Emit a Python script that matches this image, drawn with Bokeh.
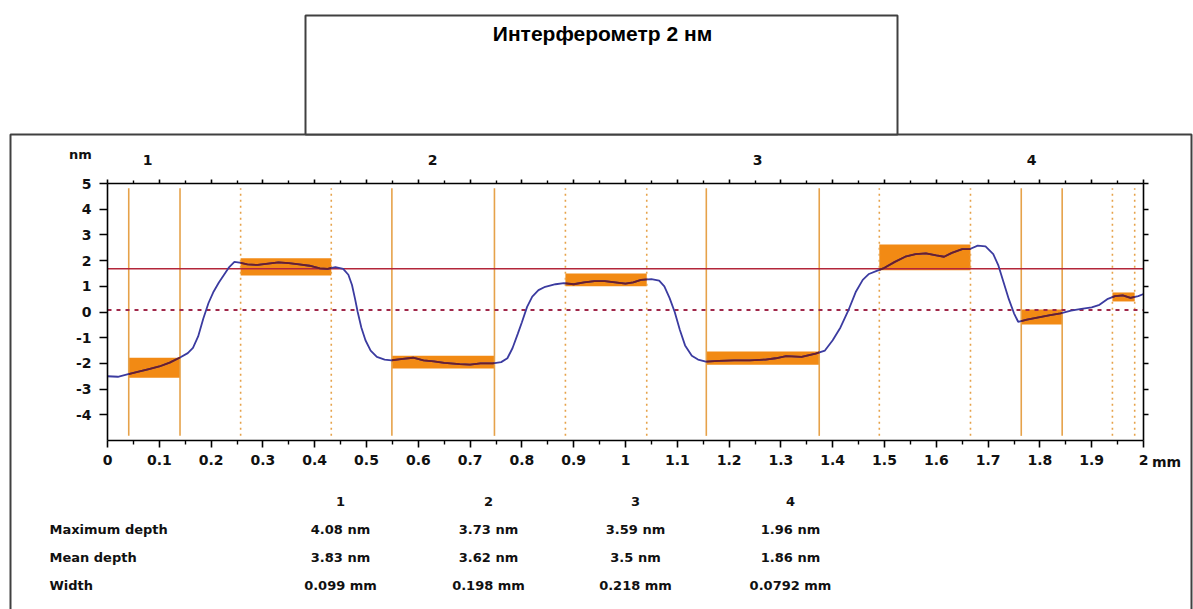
import numpy as np
from bokeh.plotting import figure
from bokeh.models import (LinearAxis, FixedTicker, Label, Range1d, CustomJSTickFormatter)
from bokeh.embed import file_html
from bokeh.resources import INLINE

# ------------------------------------------------------------------ data
title_text = "Интерферометр 2 нм"

profile_x = [0.000, 0.020, 0.040, 0.060, 0.080, 0.100, 0.120, 0.140, 0.155, 0.165,
             0.175, 0.185, 0.195, 0.205, 0.215, 0.225, 0.235, 0.245, 0.255, 0.270,
             0.290, 0.310, 0.330, 0.350, 0.370, 0.390, 0.410, 0.425, 0.440, 0.455,
             0.465, 0.472, 0.478, 0.483, 0.490, 0.498, 0.508, 0.520, 0.535, 0.548,
             0.570, 0.590, 0.610, 0.630, 0.650, 0.680, 0.700, 0.720, 0.744, 0.760,
             0.772, 0.782, 0.792, 0.800, 0.810, 0.820, 0.832, 0.845, 0.865, 0.881,
             0.900, 0.920, 0.940, 0.960, 0.980, 1.000, 1.015, 1.030, 1.050, 1.065,
             1.075, 1.085, 1.095, 1.105, 1.115, 1.128, 1.140, 1.155, 1.180, 1.210,
             1.240, 1.270, 1.290, 1.310, 1.340, 1.367, 1.385, 1.400, 1.415, 1.430,
             1.445, 1.458, 1.470, 1.485, 1.500, 1.520, 1.540, 1.560, 1.580, 1.600,
             1.615, 1.630, 1.650, 1.665, 1.680, 1.695, 1.710, 1.720, 1.730, 1.740,
             1.750, 1.758, 1.775, 1.800, 1.820, 1.840, 1.860, 1.880, 1.900, 1.915,
             1.930, 1.945, 1.960, 1.975, 1.990, 2.000]
profile_y = [-2.50, -2.52, -2.42, -2.32, -2.22, -2.12, -1.97, -1.77, -1.60, -1.40,
             -0.95, -0.25, 0.35, 0.80, 1.15, 1.45, 1.75, 1.95, 1.92, 1.85,
             1.83, 1.88, 1.93, 1.90, 1.85, 1.80, 1.70, 1.68, 1.75, 1.68,
             1.45, 1.05, 0.50, 0.00, -0.60, -1.10, -1.50, -1.75, -1.85, -1.88,
             -1.82, -1.78, -1.88, -1.92, -1.98, -2.03, -2.05, -2.00, -2.00, -1.95,
             -1.80, -1.40, -0.85, -0.40, 0.20, 0.60, 0.85, 0.98, 1.08, 1.12,
             1.08, 1.15, 1.20, 1.20, 1.15, 1.10, 1.15, 1.25, 1.28, 1.22,
             1.00, 0.55, 0.00, -0.70, -1.30, -1.70, -1.85, -1.93, -1.90, -1.88,
             -1.88, -1.85, -1.80, -1.72, -1.75, -1.62, -1.50, -1.10, -0.60, 0.05,
             0.80, 1.25, 1.48, 1.60, 1.72, 1.95, 2.15, 2.25, 2.28, 2.20,
             2.15, 2.30, 2.45, 2.45, 2.58, 2.55, 2.25, 1.80, 1.15, 0.50,
             -0.05, -0.38, -0.30, -0.20, -0.12, -0.05, 0.05, 0.12, 0.18, 0.28,
             0.50, 0.62, 0.65, 0.55, 0.62, 0.70]

region_names = ["1", "2", "3", "4"]
# measured (solid-edged) regions
measure_left = [0.041, 0.549, 1.156, 1.764]
measure_right = [0.140, 0.747, 1.374, 1.843]
measure_top = [-1.78, -1.70, -1.54, 0.10]
measure_bottom = [-2.56, -2.20, -2.05, -0.49]
# reference (dotted-edged) regions
ref_left = [0.257, 0.884, 1.490, 1.940]
ref_right = [0.432, 1.041, 1.666, 1.983]
ref_top = [2.09, 1.50, 2.63, 0.76]
ref_bottom = [1.42, 1.00, 1.62, 0.41]

level_solid = 1.68
level_dotted = 0.08

x_ticks = [0.0, 0.1, 0.2, 0.3, 0.4, 0.5, 0.6, 0.7, 0.8, 0.9, 1.0,
           1.1, 1.2, 1.3, 1.4, 1.5, 1.6, 1.7, 1.8, 1.9, 2.0]
x_tick_labels = ["0", "0.1", "0.2", "0.3", "0.4", "0.5", "0.6", "0.7", "0.8", "0.9", "1",
                 "1.1", "1.2", "1.3", "1.4", "1.5", "1.6", "1.7", "1.8", "1.9", "2"]
x_minor_ticks = [0.05, 0.15, 0.25, 0.35, 0.45, 0.55, 0.65, 0.75, 0.85, 0.95,
                 1.05, 1.15, 1.25, 1.35, 1.45, 1.55, 1.65, 1.75, 1.85, 1.95]
y_ticks = [-4, -3, -2, -1, 0, 1, 2, 3, 4, 5]
y_tick_labels = ["-4", "-3", "-2", "-1", "0", "1", "2", "3", "4", "5"]

table_rows = ["Maximum depth", "Mean depth", "Width"]
max_depth = ["4.08 nm", "3.73 nm", "3.59 nm", "1.96 nm"]
mean_depth = ["3.83 nm", "3.62 nm", "3.5 nm", "1.86 nm"]
width_vals = ["0.099 mm", "0.198 mm", "0.218 mm", "0.0792 mm"]

# ------------------------------------------------------------------ layout
# The canvas uses picture pixels as its base coordinates (y downwards);
# the chart lives in extra ranges mapped onto its own plot area.
W, H = 1193, 609
X_MIN, X_MAX, Y_MIN, Y_MAX = 0.0, 2.0, -5.0, 5.0
FX0, FX1 = 107, 1143      # picture px of x = 0 and x = 2
FY0, FY1 = 183, 440       # picture px of y = 5 and y = -5
VLINE = 4.82              # vertical marker lines stop just inside the plot area


def dx(px):
    return X_MIN + (px - FX0) * (X_MAX - X_MIN) / (FX1 - FX0)


def dy(py):
    return Y_MAX - (py - FY0) * (Y_MAX - Y_MIN) / (FY1 - FY0)


FONT = "DejaVu Sans"
ORANGE = "#F28A14"
MARK = "#E6A24A"

p = figure(width=W, height=H,
           x_range=Range1d(0, W), y_range=Range1d(H, 0),
           output_backend="svg", toolbar_location=None,
           x_axis_location=None, y_axis_location=None, min_border=0)
p.extra_x_ranges = {"chart": Range1d(dx(0), dx(W))}
p.extra_y_ranges = {"chart": Range1d(dy(H), dy(0))}
p.outline_line_color = None
p.background_fill_color = "white"
p.border_fill_color = "white"
p.xgrid.visible = False
p.ygrid.visible = False

CH = dict(x_range_name="chart", y_range_name="chart")


def style_axis(ax, labels, tick_out, minor_out):
    ax.axis_line_color = "black"
    ax.axis_line_width = 1.6
    ax.major_tick_line_color = "black"
    ax.major_tick_line_width = 1.6
    ax.minor_tick_line_color = "black"
    ax.minor_tick_line_width = 1.4
    ax.major_tick_in = 0
    ax.minor_tick_in = 0
    ax.major_tick_out = tick_out
    ax.minor_tick_out = minor_out
    if labels:
        ax.major_label_text_font = FONT
        ax.major_label_text_font_size = "14px"
        ax.major_label_text_font_style = "bold"
        ax.major_label_text_color = "#111111"
    else:
        ax.major_label_text_font_size = "0px"
        ax.major_label_text_color = None


fmt_code = "return String(Number(tick.toFixed(2)));"

xb = LinearAxis(ticker=FixedTicker(ticks=x_ticks, minor_ticks=x_minor_ticks),
                formatter=CustomJSTickFormatter(code=fmt_code),
                major_label_overrides=dict(zip(x_ticks, x_tick_labels)),
                fixed_location=Y_MIN, bounds=(X_MIN, X_MAX), **CH)
style_axis(xb, True, 7, 4)
xb.major_label_standoff = 7
p.add_layout(xb, "below")

xt = LinearAxis(ticker=FixedTicker(ticks=x_ticks, minor_ticks=x_minor_ticks),
                fixed_location=Y_MAX, bounds=(X_MIN, X_MAX), **CH)
style_axis(xt, False, 4, 3)
p.add_layout(xt, "above")

yl = LinearAxis(ticker=FixedTicker(ticks=y_ticks, minor_ticks=[]),
                major_label_overrides=dict(zip(y_ticks, y_tick_labels)),
                fixed_location=X_MIN, bounds=(Y_MIN, Y_MAX), **CH)
style_axis(yl, True, 8, 0)
yl.major_label_standoff = 8
p.add_layout(yl, "left")

yr = LinearAxis(ticker=FixedTicker(ticks=y_ticks, minor_ticks=[]),
                fixed_location=X_MAX, bounds=(Y_MIN, Y_MAX), **CH)
style_axis(yr, False, 5, 0)
p.add_layout(yr, "right")

# outer frame and title box (page coordinates)
p.quad(left=[10], right=[1191], top=[134], bottom=[H + 20],
       fill_color=None, line_color="#404040", line_width=2)
p.quad(left=[305], right=[897], top=[15], bottom=[134],
       fill_color="white", line_color="#404040", line_width=2)

# orange boxes
p.quad(left=measure_left, right=measure_right, top=measure_top, bottom=measure_bottom,
       fill_color=ORANGE, line_color=None, **CH)
p.quad(left=ref_left, right=ref_right, top=ref_top, bottom=ref_bottom,
       fill_color=ORANGE, line_color=None, **CH)

# vertical marker lines
m_edges = measure_left + measure_right
r_edges = ref_left + ref_right
p.segment(x0=m_edges, x1=m_edges, y0=[-VLINE] * len(m_edges), y1=[VLINE] * len(m_edges),
          line_color=MARK, line_width=1.6, **CH)
p.segment(x0=r_edges, x1=r_edges, y0=[-VLINE] * len(r_edges), y1=[VLINE] * len(r_edges),
          line_color=MARK, line_width=1.6, line_dash="2 4", **CH)

# horizontal levels
p.segment(x0=[X_MIN], x1=[X_MAX], y0=[level_solid], y1=[level_solid],
          line_color="#B3263A", line_width=1.6, **CH)
p.segment(x0=[X_MIN], x1=[X_MAX], y0=[level_dotted], y1=[level_dotted],
          line_color="#A0284A", line_width=2, line_dash="4 5", **CH)

# profile
p.line(profile_x, profile_y, line_color="#3B3BA0", line_width=1.8, **CH)
px_arr = np.array(profile_x)
for l, r in zip(measure_left + ref_left, measure_right + ref_right):
    xs = [l] + [float(v) for v in px_arr[(px_arr > l) & (px_arr < r)]] + [r]
    ys = np.interp(xs, profile_x, profile_y)
    p.line(xs, list(ys), line_color="#6A1E2C", line_width=1.8, **CH)


def label(px, py, text, size="13px", align="center", bold=True, font=FONT, color="#111111"):
    p.add_layout(Label(x=px, y=py, text=text, text_font=font,
                       text_font_size=size, text_align=align, text_baseline="middle",
                       text_font_style="bold" if bold else "normal", text_color=color))


label(602, 33, title_text, size="21px", bold=True, font="Liberation Sans", color="black")

# labels around the plot
label(80, 154, "nm", size="13px")
for name, pxx in zip(region_names, [147, 432, 757, 1031]):
    label(pxx, 159, name, size="14px")
label(1166, 461, "mm", size="14px")

# table
col_px = [340, 488, 635, 790]
for name, cx in zip(region_names, col_px):
    label(cx, 501, name, size="13px")
for row_name, row_vals, ry in zip(table_rows, [max_depth, mean_depth, width_vals], [529, 557, 585]):
    label(49, ry, row_name, size="13px", align="left")
    for v, cx in zip(row_vals, col_px):
        label(cx, ry, v, size="13px")

open("out.html", "w").write(file_html(p, INLINE))
